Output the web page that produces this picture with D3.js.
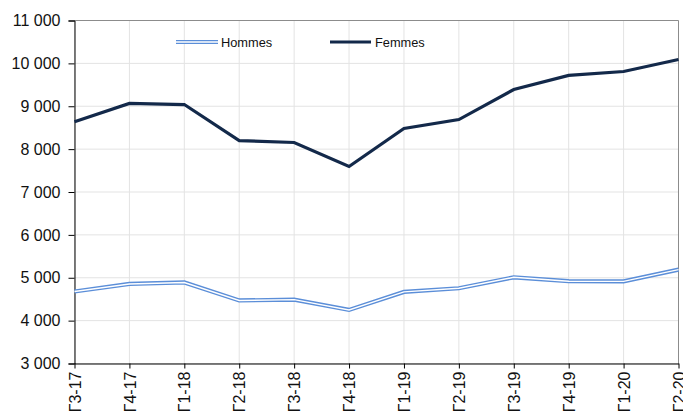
<!DOCTYPE html>
<html><head><meta charset="utf-8">
<script src="https://cdn.jsdelivr.net/npm/d3@7"></script>
<style>body{margin:0;background:#fff}svg{display:block}text{font-family:"Liberation Sans",Arial,sans-serif}</style>
</head><body>
<svg id="c" width="683" height="414"></svg>
<script>
const categories = ["Г3-17","Г4-17","Г1-18","Г2-18","Г3-18","Г4-18","Г1-19","Г2-19","Г3-19","Г4-19","Г1-20","Г2-20"];
const hommes = [4680,4855,4890,4470,4490,4250,4670,4755,5010,4920,4915,5190];
const femmes = [8640,9065,9040,8200,8155,7595,8480,8690,9390,9720,9810,10090];
const yTicks = [3000,4000,5000,6000,7000,8000,9000,10000,11000];

const svg = d3.select("#c");
const L = 74.5, R = 678.5, T = 20.5, B = 363.5;
const x = d3.scalePoint().domain(categories).range([L, R]).padding(0);
const y = d3.scaleLinear().domain([3000, 11000]).range([B, T]);
const fmt = v => d3.format(",")(v).replace(/,/g, " ");

// grid
svg.append("g").selectAll("line").data(yTicks).join("line")
  .attr("x1", L).attr("x2", R).attr("y1", d => y(d)).attr("y2", d => y(d))
  .attr("stroke", "#e3e3e3").attr("stroke-width", 1);
svg.append("g").selectAll("line").data(categories).join("line")
  .attr("x1", d => x(d)).attr("x2", d => x(d)).attr("y1", T).attr("y2", B)
  .attr("stroke", "#e3e3e3").attr("stroke-width", 1);
// frame top/right
svg.append("line").attr("x1", L).attr("x2", R).attr("y1", T).attr("y2", T).attr("stroke", "#8c8c8c");
svg.append("line").attr("x1", R).attr("x2", R).attr("y1", T).attr("y2", B).attr("stroke", "#8c8c8c");

// axes
const yAxis = svg.append("g").attr("transform", `translate(${L},0)`)
  .call(d3.axisLeft(y).tickValues(yTicks).tickFormat(fmt).tickSize(6).tickPadding(8));
yAxis.select(".domain").attr("stroke", "#000");
yAxis.selectAll("text").attr("font-size", 16).attr("fill", "#111").attr("font-family", '"Liberation Sans",Arial,sans-serif');

const xAxis = svg.append("g").attr("transform", `translate(0,${B})`)
  .call(d3.axisBottom(x).tickSize(5).tickSizeOuter(0));
xAxis.select(".domain").attr("stroke", "#000");
xAxis.selectAll("text").attr("font-size", 16).attr("fill", "#111").attr("font-family", '"Liberation Sans",Arial,sans-serif')
  .attr("text-anchor", "end").attr("transform", "rotate(-90)").attr("x", -8).attr("y", 0).attr("dy", "0.35em");

// lines
const line = d3.line().x((d, i) => x(categories[i])).y(d => y(d));
svg.append("path").datum(hommes).attr("d", line).attr("fill", "none")
  .attr("stroke", "#5b8ed8").attr("stroke-width", 4.2).attr("stroke-linejoin", "miter");
svg.append("path").datum(hommes).attr("d", line).attr("fill", "none")
  .attr("stroke", "#ffffff").attr("stroke-width", 1.4).attr("stroke-linejoin", "miter");
svg.append("path").datum(femmes).attr("d", line).attr("fill", "none")
  .attr("stroke", "#13294a").attr("stroke-width", 3.2).attr("stroke-linejoin", "miter");

// legend
const lg = svg.append("g");
lg.append("line").attr("x1", 176).attr("x2", 218).attr("y1", 42).attr("y2", 42).attr("stroke", "#5b8ed8").attr("stroke-width", 4.2);
lg.append("line").attr("x1", 176).attr("x2", 218).attr("y1", 42).attr("y2", 42).attr("stroke", "#fff").attr("stroke-width", 1.4);
lg.append("text").attr("x", 221).attr("y", 46.5).attr("font-size", 12.8).attr("fill", "#111").text("Hommes");
lg.append("line").attr("x1", 330).attr("x2", 371).attr("y1", 42).attr("y2", 42).attr("stroke", "#13294a").attr("stroke-width", 3.2);
lg.append("text").attr("x", 375).attr("y", 46.5).attr("font-size", 12.8).attr("fill", "#111").text("Femmes");
</script>
</body></html>
